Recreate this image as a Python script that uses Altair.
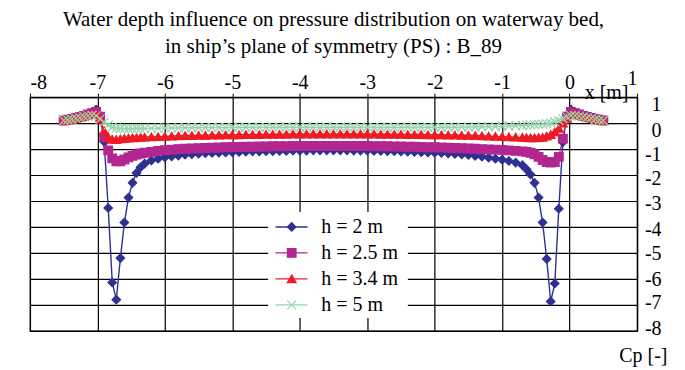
import altair as alt
import pandas as pd

# ---------------- data ----------------
series_names = ["h = 2 m", "h = 2.5 m", "h = 3.4 m", "h = 5 m"]
series_colors = ["#2E3192", "#B3268F", "#ED1C24", "#96D4AE"]

x_left = [-7.50, -7.44, -7.38, -7.32, -7.26, -7.20, -7.14, -7.08, -7.02, -6.96,
          -6.90, -6.84, -6.78, -6.72, -6.66, -6.60, -6.54, -6.48, -6.42, -6.36, -6.30]
x_mid = [-6.2, -6.1, -6.0, -5.9, -5.8, -5.7, -5.6, -5.5, -5.4, -5.3, -5.2, -5.1, -5.0,
         -4.9, -4.8, -4.7, -4.6, -4.5, -4.4, -4.3, -4.2, -4.1, -4.0,
         -3.9, -3.8, -3.7, -3.6, -3.5, -3.4, -3.3, -3.2, -3.1, -3.0,
         -2.9, -2.8, -2.7, -2.6, -2.5, -2.4, -2.3, -2.2, -2.1, -2.0,
         -1.9, -1.8, -1.7, -1.6, -1.5, -1.4, -1.3, -1.2, -1.1, -1.0, -0.9, -0.8]
x_right = [-0.70, -0.64, -0.58, -0.52, -0.46, -0.40, -0.34, -0.28, -0.22, -0.16,
           -0.10, -0.04, 0.02, 0.08, 0.14, 0.20, 0.26, 0.32, 0.38, 0.44, 0.50]

# h = 2 m
cp_h2_left = [0.10, 0.13, 0.17, 0.21, 0.25, 0.30, 0.35, 0.42, 0.52, 0.30,
              -0.72, -3.27, -6.14, -6.80, -5.20, -3.83, -2.87, -2.30, -1.92, -1.70, -1.56]
cp_h2_mid = [-1.44, -1.37, -1.32, -1.28, -1.25, -1.22, -1.20, -1.18, -1.16, -1.15, -1.14, -1.13, -1.12,
             -1.11, -1.10, -1.09, -1.09, -1.08, -1.08, -1.07, -1.07, -1.06, -1.06,
             -1.06, -1.05, -1.05, -1.05, -1.05, -1.05, -1.05, -1.06, -1.06, -1.06,
             -1.07, -1.07, -1.08, -1.08, -1.09, -1.10, -1.11, -1.12, -1.13, -1.14,
             -1.15, -1.17, -1.19, -1.21, -1.23, -1.26, -1.29, -1.33, -1.37, -1.41, -1.46, -1.52]
cp_h2_right = [-1.62, -1.78, -1.98, -2.30, -2.87, -3.83, -5.23, -6.87, -6.18, -3.30,
               -0.73, 0.30, 0.52, 0.42, 0.35, 0.30, 0.25, 0.21, 0.17, 0.13, 0.10]

# h = 2.5 m
cp_h25_left = [0.10, 0.13, 0.16, 0.20, 0.24, 0.28, 0.33, 0.38, 0.43, 0.25,
               -0.55, -1.05, -1.36, -1.47, -1.47, -1.40, -1.32, -1.26, -1.21, -1.17, -1.14]
cp_h25_mid = [-1.11, -1.07, -1.04, -1.02, -1.00, -0.99, -0.98, -0.97, -0.96, -0.95, -0.94, -0.93, -0.92,
              -0.92, -0.91, -0.91, -0.90, -0.90, -0.89, -0.89, -0.89, -0.88, -0.88,
              -0.88, -0.88, -0.88, -0.88, -0.88, -0.88, -0.88, -0.88, -0.88, -0.88,
              -0.89, -0.89, -0.89, -0.90, -0.90, -0.91, -0.91, -0.92, -0.93, -0.93,
              -0.94, -0.95, -0.96, -0.97, -0.98, -0.99, -1.00, -1.01, -1.02, -1.03, -1.05, -1.07]
cp_h25_right = [-1.09, -1.11, -1.14, -1.20, -1.30, -1.42, -1.50, -1.52, -1.50, -1.30,
                -0.60, 0.25, 0.43, 0.38, 0.33, 0.28, 0.24, 0.20, 0.16, 0.13, 0.10]

# h = 3.4 m
cp_h34_left = [0.10, 0.12, 0.15, 0.19, 0.23, 0.27, 0.31, 0.34, 0.35, 0.15,
               -0.30, -0.55, -0.62, -0.63, -0.61, -0.59, -0.58, -0.57, -0.56, -0.55, -0.54]
cp_h34_mid = [-0.53, -0.52, -0.51, -0.50, -0.49, -0.48, -0.48, -0.47, -0.47, -0.46, -0.46, -0.45, -0.45,
              -0.45, -0.44, -0.44, -0.44, -0.43, -0.43, -0.43, -0.43, -0.42, -0.42,
              -0.42, -0.42, -0.42, -0.42, -0.42, -0.42, -0.42, -0.42, -0.42, -0.42,
              -0.42, -0.43, -0.43, -0.43, -0.43, -0.44, -0.44, -0.44, -0.45, -0.45,
              -0.45, -0.46, -0.46, -0.47, -0.47, -0.48, -0.49, -0.50, -0.51, -0.52, -0.53, -0.54]
cp_h34_right = [-0.55, -0.56, -0.57, -0.57, -0.56, -0.55, -0.50, -0.44, -0.35, -0.20,
                0.00, 0.18, 0.32, 0.33, 0.30, 0.26, 0.23, 0.19, 0.15, 0.12, 0.10]

# h = 5 m
cp_h5_left = [0.10, 0.12, 0.15, 0.18, 0.21, 0.25, 0.28, 0.30, 0.28, 0.16,
              0.03, -0.08, -0.15, -0.19, -0.21, -0.22, -0.22, -0.22, -0.21, -0.21, -0.21]
cp_h5_mid = [-0.20, -0.20, -0.19, -0.19, -0.19, -0.18, -0.18, -0.18, -0.17, -0.17, -0.17, -0.17, -0.16,
             -0.16, -0.16, -0.16, -0.16, -0.16, -0.16, -0.16, -0.16, -0.16, -0.16,
             -0.16, -0.16, -0.16, -0.16, -0.16, -0.16, -0.16, -0.16, -0.16, -0.16,
             -0.16, -0.16, -0.16, -0.16, -0.16, -0.16, -0.16, -0.16, -0.16, -0.16,
             -0.16, -0.16, -0.16, -0.15, -0.15, -0.15, -0.14, -0.14, -0.13, -0.12, -0.11, -0.10]
cp_h5_right = [-0.09, -0.08, -0.07, -0.06, -0.05, -0.04, -0.02, 0.01, 0.05, 0.10,
               0.17, 0.24, 0.29, 0.29, 0.27, 0.24, 0.21, 0.18, 0.15, 0.12, 0.10]

x_all = x_left + x_mid + x_right
cp_series = [cp_h2_left + cp_h2_mid + cp_h2_right,
             cp_h25_left + cp_h25_mid + cp_h25_right,
             cp_h34_left + cp_h34_mid + cp_h34_right,
             cp_h5_left + cp_h5_mid + cp_h5_right]

rows = []
for order, (name, vals) in enumerate(zip(series_names, cp_series)):
    for xv, yv in zip(x_all, vals):
        rows.append({"series": name, "order": order, "x": xv, "cp": yv})
df = pd.DataFrame(rows)

# legend rows sit on the Cp grid lines -4 .. -7
legend_df = pd.DataFrame({"series": series_names, "cp": [-4, -5, -6, -7]})

# ---------------- styling ----------------
FONT = "Liberation Serif"
cross_path = "M-1,-1L1,1M-1,1L1,-1"
color_scale = alt.Scale(domain=series_names, range=series_colors)
fill_scale = alt.Scale(domain=series_names, range=series_colors[:3] + ["transparent"])
shape_scale = alt.Scale(domain=series_names, range=["diamond", "square", "triangle-up", cross_path])
size_scale = alt.Scale(domain=series_names, range=[72, 82, 80, 64])

x_scale = alt.Scale(domain=[-8, 1], nice=False, zero=False)
y_scale = alt.Scale(domain=[-8, 1], nice=False, zero=False)

x_axis = alt.Axis(orient="top", values=list(range(-8, 2)),
                  labelExpr="'' + datum.value", labelOverlap=False,
                  grid=True, tickSize=4,
                  labelPadding={"condition": {"test": "datum.value == 1", "value": 5},
                                "value": 1},
                  title="x [m]", titleX=577, titleY=1, titleAlign="center",
                  titleBaseline="alphabetic", titleFontWeight="normal",
                  titleFontSize=20, titleFont=FONT)
y_axis = alt.Axis(orient="right", values=list(range(-8, 2)),
                  labelExpr="'' + datum.value", labelOverlap=False,
                  grid=True, ticks=False, labelAlign="right", labelPadding=24,
                  labelBaseline="middle",
                  labelOffset={"condition": [
                      {"test": "datum.value >= 0", "value": 7},
                      {"test": "datum.value >= -1", "value": 5},
                      {"test": "datum.value >= -4", "value": 3},
                      {"test": "datum.value >= -6", "value": 1}],
                      "value": -2},
                  title="Cp [-]", titleX=30, titleY=265, titleAngle=0,
                  titleAlign="right", titleBaseline="alphabetic",
                  titleFontWeight="normal", titleFontSize=20, titleFont=FONT)

x_enc = alt.X("x:Q", scale=x_scale, axis=x_axis)
y_enc = alt.Y("cp:Q", scale=y_scale, axis=y_axis)

base = alt.Chart(df)

lines = base.mark_line(strokeWidth=1.4).encode(
    x=x_enc, y=y_enc,
    color=alt.Color("series:N", scale=color_scale, legend=None),
    detail="series:N",
    order=alt.Order("x:Q"),
)

points = base.mark_point(opacity=1, strokeWidth=1.2).encode(
    x=x_enc, y=y_enc,
    stroke=alt.Stroke("series:N", scale=color_scale, legend=None),
    fill=alt.Fill("series:N", scale=fill_scale, legend=None),
    shape=alt.Shape("series:N", scale=shape_scale, legend=None),
    size=alt.Size("series:N", scale=size_scale, legend=None),
)


def leg_x(v):
    return alt.X(datum=v, type="quantitative", scale=x_scale, axis=x_axis)


leg_box = alt.Chart(legend_df).mark_rect(fill="white", stroke=None).encode(
    x=alt.value(239), x2=alt.value(378), y=alt.value(115), y2=alt.value(221)
)
leg_rule = alt.Chart(legend_df).mark_rule(strokeWidth=1.4).encode(
    x=leg_x(-4.36), x2=alt.X2(datum=-3.885), y=y_enc,
    color=alt.Color("series:N", scale=color_scale, legend=None),
)
leg_pt = alt.Chart(legend_df).mark_point(opacity=1, strokeWidth=1.2).encode(
    x=leg_x(-4.12), y=y_enc,
    stroke=alt.Stroke("series:N", scale=color_scale, legend=None),
    fill=alt.Fill("series:N", scale=fill_scale, legend=None),
    shape=alt.Shape("series:N", scale=shape_scale, legend=None),
    size=alt.Size("series:N", scale=size_scale, legend=None),
)
leg_txt = alt.Chart(legend_df).mark_text(
    align="left", baseline="middle", font=FONT, fontSize=20, color="black"
).encode(x=leg_x(-3.68), y=y_enc, text="series:N")

chart = alt.layer(lines, points, leg_box, leg_rule, leg_pt, leg_txt).properties(
    width=608, height=234,
    title=alt.TitleParams(
        text=["Water depth influence on pressure distribution on waterway bed,",
              "in ship\u2019s plane of symmetry (PS) : B_89"],
        font=FONT, fontSize=21, fontWeight="normal", color="black",
        lineHeight=27, anchor="middle", offset=11),
    autosize=alt.AutoSizeParams(type="none"),
    padding={"left": 22, "top": 89, "right": 40, "bottom": 39},
).configure_view(
    stroke="black", strokeWidth=1.2
).configure_axis(
    labelFont=FONT, labelFontSize=20, labelColor="black",
    gridColor="black", gridOpacity=1, gridWidth=1.2,
    domainColor="black", domainWidth=1.2, tickColor="black",
    titleColor="black",
)

chart.save("out.html", embed_options={"renderer": "svg", "actions": False})
